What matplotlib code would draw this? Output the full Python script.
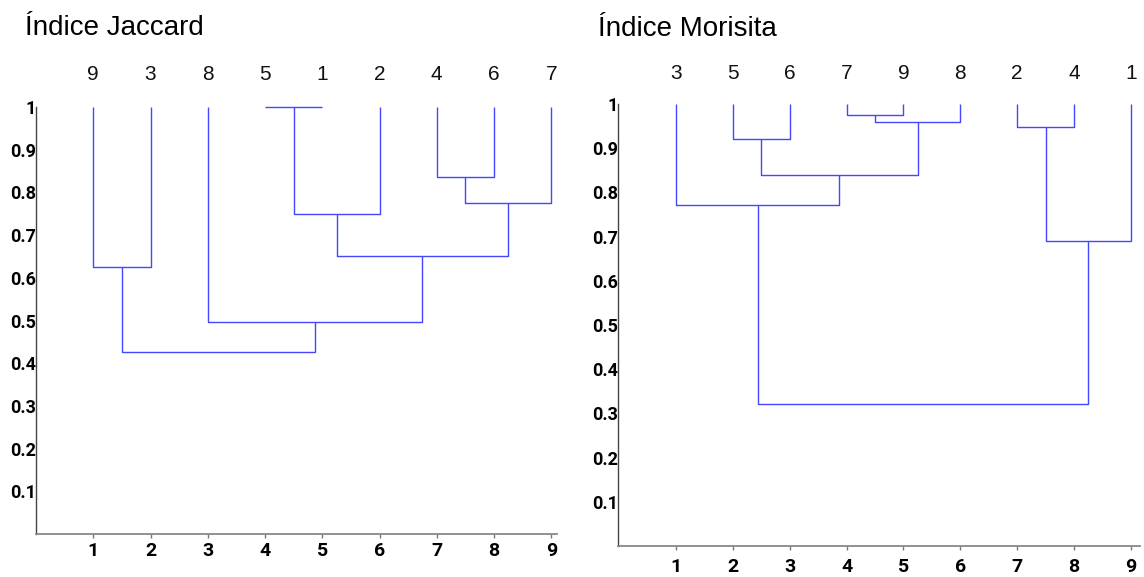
import matplotlib.pyplot as plt
import matplotlib.transforms as mtransforms

# ── data: leaf order and merges (left, right, similarity) ──
jac_order = [9, 3, 8, 5, 1, 2, 4, 6, 7]
jac_merges = [
    (5, 1, 1.00),
    (4, 6, 0.835),
    ('c1', 7, 0.776),
    ('c0', 2, 0.75),
    (9, 3, 0.626),
    ('c3', 'c2', 0.651),
    (8, 'c5', 0.496),
    ('c4', 'c6', 0.427),
]

mor_order = [3, 5, 6, 7, 9, 8, 2, 4, 1]
mor_merges = [
    (7, 9, 0.976),
    ('c0', 8, 0.960),
    (2, 4, 0.947),
    (5, 6, 0.920),
    ('c3', 'c1', 0.840),
    (3, 'c4', 0.771),
    ('c2', 1, 0.689),
    ('c5', 'c6', 0.321),
]

y_ticks = [0.1, 0.2, 0.3, 0.4, 0.5, 0.6, 0.7, 0.8, 0.9, 1.0]
y_ticklabels = ['0.1', '0.2', '0.3', '0.4', '0.5', '0.6', '0.7', '0.8', '0.9', '1']
x_ticks = [1, 2, 3, 4, 5, 6, 7, 8, 9]

LINE_COLOR = '#4646ff'
YTICK_FONT = dict(family='Roboto', weight='bold', size=13)
XTICK_FONT = dict(family='Roboto', weight='bold', size=14)


def draw_dendro(ax, order, merges, xlim, label_y, xpad):
    pos = {leaf: i + 1 for i, leaf in enumerate(order)}
    hgt = {leaf: 1.0 for leaf in order}
    for k, (a, b, h) in enumerate(merges):
        xa, xb = pos[a], pos[b]
        ax.plot([xa, xa, xb, xb], [hgt[a], h, h, hgt[b]],
                color=LINE_COLOR, lw=1.0, clip_on=False, solid_capstyle='butt')
        pos[f'c{k}'] = (xa + xb) / 2
        hgt[f'c{k}'] = h

    # leaf names on top
    trans = mtransforms.blended_transform_factory(ax.transData, ax.transAxes)
    for leaf in order:
        ax.text(pos[leaf], label_y, str(leaf), transform=trans, ha='center',
                va='center', fontsize=15, family='Liberation Sans', color='#111')

    ax.set_xlim(*xlim)
    ax.set_ylim(0, 1.0)
    ax.set_xticks(x_ticks)
    ax.set_xticklabels([str(t) for t in x_ticks], fontdict=XTICK_FONT)
    ax.set_yticks(y_ticks)
    ax.set_yticklabels(y_ticklabels, fontdict=YTICK_FONT)
    ax.tick_params(axis='x', length=3, width=1, color='#777', pad=xpad)
    ax.tick_params(axis='y', length=0, pad=0)
    for lbl in ax.get_yticklabels():
        lbl.set_bbox(dict(facecolor='white', edgecolor='none', pad=4))
    for s in ['top', 'right']:
        ax.spines[s].set_visible(False)
    ax.spines['bottom'].set_color('#888')
    ax.spines['bottom'].set_linewidth(1.3)
    ax.spines['left'].set_color('#444')
    ax.spines['left'].set_linewidth(1.0)


W, H = 1144, 577
fig = plt.figure(figsize=(W / 100, H / 100), dpi=100)

ax1 = fig.add_axes([36 / W, 1 - 534 / H, (557 - 36) / W, (534 - 107) / H])
ax2 = fig.add_axes([618 / W, 1 - 546 / H, (1140 - 618) / W, (546 - 104) / H])

draw_dendro(ax1, jac_order, jac_merges, (0.0, 9.1), 1.077, 3)
draw_dendro(ax2, mor_order, mor_merges, (-0.02, 9.16), 1.07, 6)

fig.text(25 / W, 1 - 35 / H, 'Índice Jaccard', fontsize=20,
         family='Liberation Sans', va='baseline', ha='left')
fig.text(598 / W, 1 - 36 / H, 'Índice Morisita', fontsize=20,
         family='Liberation Sans', va='baseline', ha='left')

plt.savefig('out.png', dpi=100)
plt.close()
